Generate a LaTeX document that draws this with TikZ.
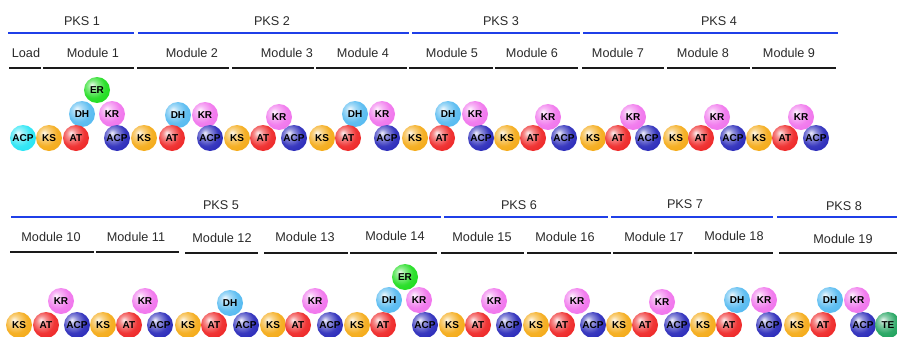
\documentclass[tikz,border=0pt]{standalone}
\usepackage{fontspec}
\setmainfont{Liberation Sans}
\usepackage{xcolor}
\definecolor{colPKS}{HTML}{1F3FE8}
\definecolor{colMod}{HTML}{1A1A1A}
\definecolor{colText}{HTML}{2A2A2A}
\definecolor{colLoad}{HTML}{20E4F4}
\definecolor{colKS}{HTML}{F4A810}
\definecolor{colAT}{HTML}{EE2020}
\definecolor{colACP}{HTML}{2424B8}
\definecolor{colDH}{HTML}{50B8F0}
\definecolor{colKR}{HTML}{F070EC}
\definecolor{colER}{HTML}{18DC18}
\definecolor{colTE}{HTML}{18A058}
\usepackage{tikz}

% glossy sphere, lighter than the stock ball shading
\makeatletter
\pgfdeclareradialshading[tikz@ball]{sphere}{\pgfpoint{-10bp}{10bp}}{%
  color(0bp)=(tikz@ball!8!white); color(9bp)=(tikz@ball!50!white);
  color(22bp)=(tikz@ball!90!white); color(38bp)=(tikz@ball);
  color(50bp)=(tikz@ball!80!black); color(64bp)=(tikz@ball!65!black)}
\makeatother

\tikzset{
  dom/.style={circle, inner sep=0pt, minimum size=19.5pt, text=black,
    font=\fontsize{7.5}{8}\selectfont\bfseries},
  domLoad/.style={dom, ball color=colLoad, shading=sphere},
  domKS/.style={dom, ball color=colKS, shading=sphere},
  domAT/.style={dom, ball color=colAT, shading=sphere},
  domACP/.style={dom, ball color=colACP, shading=sphere},
  domDH/.style={dom, ball color=colDH, shading=sphere},
  domKR/.style={dom, ball color=colKR, shading=sphere},
  domER/.style={dom, ball color=colER, shading=sphere},
  domTE/.style={dom, ball color=colTE, shading=sphere},
  pksbar/.style={colPKS, line width=1.5pt},
  modbar/.style={colMod, line width=1.5pt},
  head/.style={font=\fontsize{9.5}{11}\selectfont, text=colText}
}

\begin{document}
\begin{tikzpicture}[x=0.75pt, y=-0.75pt]
        % Page: 897 x 336 px, y runs downwards
        \useasboundingbox (0,0) rectangle (897,336);
        % PKS bars, upper row
        \draw[pksbar] (8,33) -- (134,33);    \node[head] (pks1) at (82,21) {PKS 1};
        \draw[pksbar] (138,33) -- (409,33);  \node[head] (pks2) at (272,21) {PKS 2};
        \draw[pksbar] (412,33) -- (580,33);  \node[head] (pks3) at (501,21) {PKS 3};
        \draw[pksbar] (583,33) -- (838,33);  \node[head] (pks4) at (719,21) {PKS 4};
        % Module bars, upper row
        \draw[modbar] (9,68) -- (41,68);     \node[head] (mload) at (26,53) {Load};
        \draw[modbar] (43,68) -- (134,68);   \node[head] (m1) at (93,53) {Module 1};
        \draw[modbar] (137,68) -- (229,68);  \node[head] (m2) at (192,53) {Module 2};
        \draw[modbar] (232,68) -- (314,68);  \node[head] (m3) at (287,53) {Module 3};
        \draw[modbar] (316,68) -- (407,68);  \node[head] (m4) at (363,53) {Module 4};
        \draw[modbar] (409,68) -- (493,68);  \node[head] (m5) at (452,53) {Module 5};
        \draw[modbar] (495,68) -- (578,68);  \node[head] (m6) at (532,53) {Module 6};
        \draw[modbar] (582,68) -- (664,68);  \node[head] (m7) at (618,53) {Module 7};
        \draw[modbar] (667,68) -- (750,68);  \node[head] (m8) at (703,53) {Module 8};
        \draw[modbar] (752,68) -- (836,68);  \node[head] (m9) at (789,53) {Module 9};
        % Domains, upper row (base line y=138)
        \node[domLoad] (acp0) at (23,138) {ACP};
        \node[domDH] (dh1) at (82,114) {DH};   \node[domKR] (kr1) at (112,114) {KR};  \node[domER] (er1) at (97,90) {ER};
        \node[domKS] (ks1) at (49,138) {KS};   \node[domAT] (at1) at (76,138) {AT};   \node[domACP] (acp1) at (117,138) {ACP};
        \node[domDH] (dh2) at (178,115) {DH};  \node[domKR] (kr2) at (205,115) {KR};
        \node[domKS] (ks2) at (144,138) {KS};  \node[domAT] (at2) at (172,138) {AT};  \node[domACP] (acp2) at (210,138) {ACP};
        \node[domKR] (kr3) at (279,117) {KR};
        \node[domKS] (ks3) at (237,138) {KS};  \node[domAT] (at3) at (263,138) {AT};  \node[domACP] (acp3) at (294,138) {ACP};
        \node[domDH] (dh4) at (355,114) {DH};  \node[domKR] (kr4) at (382,114) {KR};
        \node[domKS] (ks4) at (322,138) {KS};  \node[domAT] (at4) at (348,138) {AT};  \node[domACP] (acp4) at (387,138) {ACP};
        \node[domDH] (dh5) at (448,114) {DH};  \node[domKR] (kr5) at (475,114) {KR};
        \node[domKS] (ks5) at (415,138) {KS};  \node[domAT] (at5) at (442,138) {AT};  \node[domACP] (acp5) at (481,138) {ACP};
        \node[domKR] (kr6) at (548,117) {KR};
        \node[domKS] (ks6) at (507,138) {KS};  \node[domAT] (at6) at (533,138) {AT};  \node[domACP] (acp6) at (564,138) {ACP};
        \node[domKR] (kr7) at (633,117) {KR};
        \node[domKS] (ks7) at (593,138) {KS};  \node[domAT] (at7) at (618,138) {AT};  \node[domACP] (acp7) at (648,138) {ACP};
        \node[domKR] (kr8) at (717,117) {KR};
        \node[domKS] (ks8) at (676,138) {KS};  \node[domAT] (at8) at (701,138) {AT};  \node[domACP] (acp8) at (733,138) {ACP};
        \node[domKR] (kr9) at (801,117) {KR};
        \node[domKS] (ks9) at (759,138) {KS};  \node[domAT] (at9) at (785,138) {AT};  \node[domACP] (acp9) at (816,138) {ACP};
        % PKS bars, lower row
        \draw[pksbar] (11,217) -- (441,217);   \node[head] (pks5) at (221,205) {PKS 5};
        \draw[pksbar] (444,217) -- (608,217);  \node[head] (pks6) at (519,205) {PKS 6};
        \draw[pksbar] (611,217) -- (773,217);  \node[head] (pks7) at (685,204) {PKS 7};
        \draw[pksbar] (777,217) -- (900,217);  \node[head] (pks8) at (844,206) {PKS 8};
        % Module bars, lower row
        \draw[modbar] (10,252) -- (94,252);    \node[head] (m10) at (51,237) {Module 10};
        \draw[modbar] (96,252) -- (179,252);   \node[head] (m11) at (136,237) {Module 11};
        \draw[modbar] (185,253) -- (258,253);  \node[head] (m12) at (222,238) {Module 12};
        \draw[modbar] (264,253) -- (348,253);  \node[head] (m13) at (305,237) {Module 13};
        \draw[modbar] (350,253) -- (437,253);  \node[head] (m14) at (395,236) {Module 14};
        \draw[modbar] (441,253) -- (524,253);  \node[head] (m15) at (482,237) {Module 15};
        \draw[modbar] (527,253) -- (611,253);  \node[head] (m16) at (565,237) {Module 16};
        \draw[modbar] (613,253) -- (692,253);  \node[head] (m17) at (654,237) {Module 17};
        \draw[modbar] (694,253) -- (773,253);  \node[head] (m18) at (734,236) {Module 18};
        \draw[modbar] (779,253) -- (900,253);  \node[head] (m19) at (843,239) {Module 19};
        % Domains, lower row (base line y=325)
        \node[domKR] (kr10) at (61,301) {KR};
        \node[domKS] (ks10) at (19,325) {KS};  \node[domAT] (at10) at (46,325) {AT};  \node[domACP] (acp10) at (77,325) {ACP};
        \node[domKR] (kr11) at (145,301) {KR};
        \node[domKS] (ks11) at (103,325) {KS}; \node[domAT] (at11) at (129,325) {AT}; \node[domACP] (acp11) at (160,325) {ACP};
        \node[domDH] (dh12) at (230,303) {DH};
        \node[domKS] (ks12) at (188,325) {KS}; \node[domAT] (at12) at (214,325) {AT}; \node[domACP] (acp12) at (246,325) {ACP};
        \node[domKR] (kr13) at (315,301) {KR};
        \node[domKS] (ks13) at (273,325) {KS}; \node[domAT] (at13) at (298,325) {AT}; \node[domACP] (acp13) at (330,325) {ACP};
        \node[domDH] (dh14) at (389,300) {DH}; \node[domKR] (kr14) at (419,300) {KR}; \node[domER] (er14) at (405,277) {ER};
        \node[domKS] (ks14) at (357,325) {KS}; \node[domAT] (at14) at (383,325) {AT}; \node[domACP] (acp14) at (425,325) {ACP};
        \node[domKR] (kr15) at (494,301) {KR};
        \node[domKS] (ks15) at (452,325) {KS}; \node[domAT] (at15) at (478,325) {AT}; \node[domACP] (acp15) at (509,325) {ACP};
        \node[domKR] (kr16) at (577,301) {KR};
        \node[domKS] (ks16) at (536,325) {KS}; \node[domAT] (at16) at (562,325) {AT}; \node[domACP] (acp16) at (593,325) {ACP};
        \node[domKR] (kr17) at (662,302) {KR};
        \node[domKS] (ks17) at (619,325) {KS}; \node[domAT] (at17) at (645,325) {AT}; \node[domACP] (acp17) at (677,325) {ACP};
        \node[domDH] (dh18) at (737,300) {DH}; \node[domKR] (kr18) at (764,300) {KR};
        \node[domKS] (ks18) at (703,325) {KS}; \node[domAT] (at18) at (729,325) {AT}; \node[domACP] (acp18) at (769,325) {ACP};
        \node[domDH] (dh19) at (830,300) {DH}; \node[domKR] (kr19) at (857,300) {KR};
        \node[domKS] (ks19) at (797,325) {KS}; \node[domAT] (at19) at (823,325) {AT}; \node[domACP] (acp19) at (863,325) {ACP};
        \node[domTE] (te) at (888,325) {TE};
    \end{tikzpicture}
\end{document}
